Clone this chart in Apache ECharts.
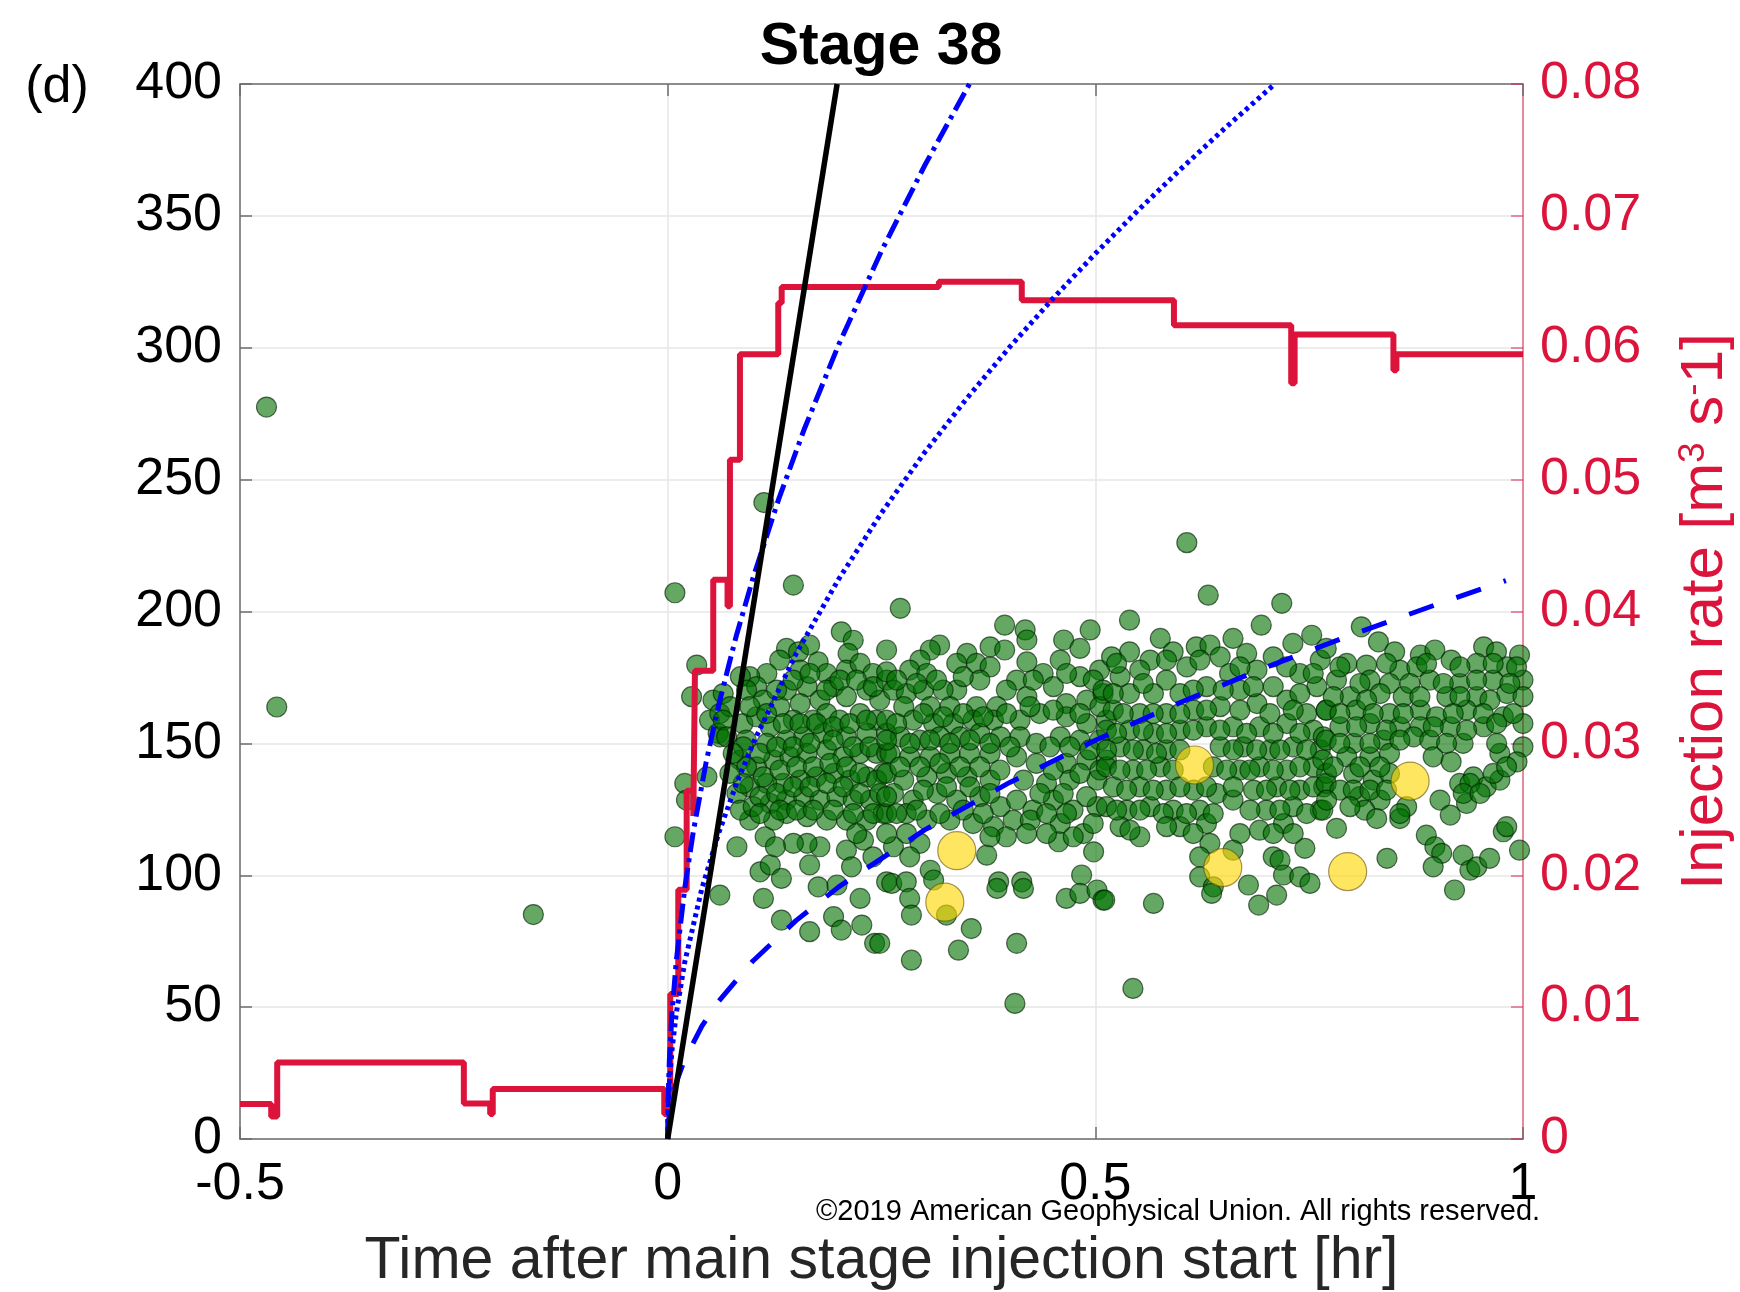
<!DOCTYPE html>
<html><head><meta charset="utf-8">
<script src="https://cdn.jsdelivr.net/npm/echarts@6/dist/echarts.min.js"></script>
<style>html,body{margin:0;padding:0;background:#fff}#c{width:1740px;height:1292px}</style>
</head><body><div id="c"></div>
<script>
// ---- data (time [hr], distance [m]) ----
const xTickLabels = ['-0.5', '0', '0.5', '1'];
const outlierEvents = [[-0.469,277.5],[-0.457,163.8],[-0.157,85.1],[0.1125,241.3],[0.607,226.1]];
const eventsA = [[0.0085,207.1],[0.147,210.0],[0.034,179.7],[0.028,167.7],[0.053,166.4],[0.049,158.8],[0.059,153.8],[0.020,134.8],[0.022,128.5],[0.046,137.3],[0.0085,114.6],[0.081,110.8],[0.061,92.5],[0.112,91.2],[0.108,101.3],[0.120,103.9],[0.133,98.8],[0.114,114.6],[0.096,120.9],[0.133,83.0],[0.166,78.6],[0.166,103.9],[0.176,95.6],[0.178,110.8],[0.194,84.3],[0.203,79.2],[0.198,96.3],[0.209,109.5],[0.215,103.2],[0.225,91.2],[0.227,81.1],[0.242,74.2],[0.229,113.3],[0.240,107.0],[0.256,97.5],[0.203,192.3],[0.217,189.1],[0.211,184.1],[0.256,185.4],[0.139,186.0],[0.153,184.7],[0.166,187.3],[0.131,181.6],[0.176,180.9],[0.116,176.5],[0.096,175.3],[0.085,175.3],[0.104,171.5],[0.065,168.9],[0.061,161.3],[0.073,163.9],[0.088,157.5],[0.061,152.5],[0.104,160.1],[0.120,156.3],[0.131,163.9],[0.139,170.2],[0.155,177.8],[0.163,171.5],[0.186,176.5],[0.194,171.5],[0.209,177.8],[0.225,180.3],[0.240,176.5],[0.233,170.2],[0.209,167.7],[0.178,166.4],[0.155,165.1],[0.147,158.8],[0.170,158.8],[0.186,161.3],[0.201,158.8],[0.225,161.3],[0.244,158.8],[0.248,166.4],[0.233,153.8],[0.209,152.5],[0.182,153.8],[0.159,152.5],[0.139,151.2],[0.116,150.0],[0.092,151.2],[0.085,143.7],[0.104,141.1],[0.124,143.7],[0.143,144.9],[0.163,146.2],[0.186,147.5],[0.205,144.9],[0.225,146.2],[0.244,146.2],[0.252,138.6],[0.233,137.3],[0.213,136.1],[0.194,138.6],[0.174,137.3],[0.155,136.1],[0.135,134.8],[0.116,134.8],[0.096,133.5],[0.081,131.0],[0.085,124.7],[0.100,126.0],[0.120,127.2],[0.139,128.5],[0.159,129.8],[0.178,128.5],[0.198,129.8],[0.217,128.5],[0.237,128.5],[0.252,123.4],[0.233,120.9],[0.209,120.9],[0.186,120.9],[0.163,122.2],[0.139,123.4],[0.124,120.9],[0.163,112.1],[0.147,112.1],[0.126,110.8],[0.221,115.8],
 [0.0923,170.2],[0.1118,166.4],[0.1274,170.2],[0.1469,174.0],[0.1664,176.5],[0.1859,170.2],[0.2014,174.0],[0.2209,174.0],[0.2404,171.5],[0.2560,174.0],[0.0962,163.9],[0.1157,161.3],[0.1352,157.5],[0.1547,157.5],[0.1742,157.5],[0.1936,156.3],[0.2131,157.5],[0.2326,158.8],[0.2560,153.8],[0.0884,148.7],[0.1079,146.2],[0.1274,148.7],[0.1469,148.7],[0.1664,150.0],[0.1936,151.2],[0.2170,148.7],[0.2365,148.7],[0.2560,146.2],[0.0923,141.1],[0.1118,137.3],[0.1313,139.9],[0.1508,141.1],[0.1703,141.1],[0.1897,142.4],[0.2092,141.1],[0.2248,138.6],[0.2443,136.1],[0.0884,134.8],[0.1079,129.8],[0.1274,131.0],[0.1469,133.5],[0.1664,133.5],[0.1859,134.8],[0.2053,133.5],[0.2248,131.0],[0.2482,131.0],[0.1079,123.4],[0.1313,124.7],[0.1508,124.7],[0.1703,124.7],[0.1936,124.7],[0.2170,123.4],[0.2404,123.4],[0.065,158.8],[0.069,152.5],[0.0767,146.2],[0.0728,138.6]];
const eventsB = [[0.272,201.2],[0.394,194.8],[0.418,193.0],[0.420,189.2],[0.463,189.2],[0.482,186.0],[0.494,193.0],[0.318,187.3],[0.307,185.4],[0.350,184.1],[0.377,186.6],[0.394,185.4],[0.420,180.9],[0.459,181.6],[0.338,180.3],[0.361,180.3],[0.295,181.6],[0.283,177.8],[0.256,177.1],[0.303,176.5],[0.377,179.0],[0.365,174.0],[0.408,174.0],[0.439,176.5],[0.482,175.3],[0.505,177.8],[0.451,171.5],[0.420,167.7],[0.396,170.2],[0.385,163.9],[0.361,163.9],[0.338,170.2],[0.322,170.2],[0.264,170.2],[0.279,168.9],[0.299,170.2],[0.276,163.9],[0.307,163.9],[0.330,163.9],[0.466,165.1],[0.490,166.4],[0.509,168.9],[0.435,161.3],[0.412,158.8],[0.466,160.1],[0.490,157.5],[0.513,158.8],[0.256,158.8],[0.287,158.8],[0.311,157.5],[0.334,157.5],[0.357,158.8],[0.381,158.8],[0.272,152.5],[0.295,151.2],[0.318,152.5],[0.342,152.5],[0.365,153.8],[0.389,152.5],[0.412,152.5],[0.431,150.0],[0.459,152.5],[0.482,151.2],[0.505,151.2],[0.260,146.2],[0.283,144.9],[0.307,144.9],[0.330,146.2],[0.353,146.2],[0.377,146.2],[0.408,144.9],[0.431,142.4],[0.466,142.4],[0.490,143.7],[0.513,143.7],[0.256,138.6],[0.276,136.1],[0.303,137.3],[0.326,138.6],[0.350,137.3],[0.377,136.1],[0.416,136.1],[0.443,134.8],[0.470,136.1],[0.502,136.1],[0.264,131.0],[0.287,128.5],[0.315,131.0],[0.338,128.5],[0.365,129.8],[0.389,126.0],[0.408,128.5],[0.427,124.7],[0.451,128.5],[0.474,124.7],[0.502,126.0],[0.256,123.4],[0.279,123.4],[0.303,120.9],[0.330,120.9],[0.357,119.6],[0.381,118.4],[0.404,120.9],[0.424,120.9],[0.459,119.6],[0.486,115.8],[0.396,114.6],[0.373,107.6],[0.457,112.7],[0.498,108.9],[0.264,110.8],[0.295,112.1],[0.283,107.0],[0.262,96.9],[0.279,97.5],[0.307,101.9],[0.311,98.2],[0.283,91.2],[0.285,84.9],[0.326,84.9],[0.387,97.5],[0.385,95.0],[0.414,97.5],[0.416,95.0],[0.484,100.1],[0.466,91.2],[0.482,93.1],[0.502,94.4],[0.509,90.6],[0.248,74.2],[0.285,67.8],[0.340,71.6],[0.355,79.8],[0.408,74.2],[0.406,51.4],
 [0.2677,174.0],[0.2911,172.7],[0.3144,174.0],[0.3456,175.3],[0.4275,174.0],[0.4664,176.5],[0.4976,174.0],[0.2677,157.5],[0.2989,161.3],[0.3222,160.1],[0.3456,161.3],[0.3690,160.1],[0.3963,161.3],[0.4236,163.9],[0.4508,162.6],[0.4820,161.3],[0.5054,163.9],[0.2560,151.2],[0.2833,150.0],[0.3067,151.2],[0.3300,150.0],[0.3534,151.2],[0.3768,150.0],[0.4002,148.7],[0.4469,148.7],[0.4703,148.7],[0.4937,147.5],[0.2716,141.1],[0.2950,141.1],[0.3183,142.4],[0.3417,141.1],[0.3651,141.1],[0.3885,139.9],[0.4508,139.9],[0.4820,138.6],[0.5054,139.9],[0.2560,129.8],[0.2989,132.3],[0.3261,133.5],[0.3534,133.5],[0.3768,131.0],[0.4352,131.0],[0.4625,131.0],[0.4898,129.8],[0.2677,123.4],[0.2911,124.7],[0.3183,123.4],[0.3456,124.7],[0.3690,123.4],[0.4430,123.4],[0.4664,123.4],[0.4976,119.6],[0.2560,115.8],[0.2794,115.8],[0.3768,114.6],[0.4197,115.8],[0.4430,115.8],[0.4742,114.6]];
const eventsC = [[0.632,206.2],[0.718,203.1],[0.540,196.7],[0.694,194.8],[0.753,191.0],[0.576,189.8],[0.618,186.6],[0.634,187.3],[0.661,189.8],[0.677,184.1],[0.731,187.9],[0.540,184.7],[0.519,182.8],[0.591,184.7],[0.564,181.6],[0.646,182.8],[0.708,182.8],[0.763,181.6],[0.607,179.0],[0.552,177.8],[0.529,175.3],[0.657,176.5],[0.689,177.8],[0.739,176.5],[0.583,174.0],[0.630,171.5],[0.509,170.2],[0.540,168.9],[0.568,168.9],[0.599,168.9],[0.669,170.2],[0.708,171.5],[0.759,171.5],[0.724,166.4],[0.689,165.1],[0.646,163.9],[0.615,162.6],[0.521,162.6],[0.552,161.3],[0.583,161.3],[0.747,161.3],[0.770,162.6],[0.513,155.0],[0.540,155.0],[0.568,153.8],[0.599,155.0],[0.630,156.3],[0.661,156.3],[0.692,156.3],[0.724,157.5],[0.755,155.0],[0.529,148.7],[0.556,147.5],[0.583,147.5],[0.646,148.7],[0.673,148.7],[0.704,147.5],[0.731,148.7],[0.763,147.5],[0.513,141.1],[0.544,139.9],[0.576,141.1],[0.638,141.1],[0.669,139.9],[0.692,141.1],[0.724,139.9],[0.755,141.1],[0.521,133.5],[0.552,133.5],[0.583,132.3],[0.615,132.3],[0.642,131.0],[0.685,132.3],[0.712,133.5],[0.739,132.3],[0.767,133.5],[0.513,126.0],[0.537,124.7],[0.564,126.0],[0.591,124.7],[0.622,124.7],[0.661,128.5],[0.700,124.7],[0.731,126.0],[0.763,124.7],[0.529,118.4],[0.552,114.6],[0.599,118.4],[0.630,119.6],[0.669,115.8],[0.692,117.1],[0.720,119.6],[0.634,112.1],[0.622,107.0],[0.661,109.5],[0.708,107.0],[0.716,105.7],[0.745,110.2],[0.622,99.4],[0.638,95.6],[0.636,93.1],[0.679,96.3],[0.720,100.1],[0.739,99.4],[0.751,96.9],[0.712,92.5],[0.691,88.7],[0.568,89.3],[0.511,90.6],[0.544,57.1],
 [0.5249,180.3],[0.5833,181.6],[0.6223,181.6],[0.6691,179.0],[0.7236,179.0],[0.7548,176.5],[0.5210,168.9],[0.5561,172.7],[0.6145,170.2],[0.6496,170.2],[0.6847,171.5],[0.7392,168.9],[0.5327,161.3],[0.5677,161.3],[0.5989,161.3],[0.6301,162.6],[0.6691,162.6],[0.7041,161.3],[0.7314,162.6],[0.5249,153.8],[0.5561,155.0],[0.5833,153.8],[0.6145,155.0],[0.6457,155.0],[0.6769,153.8],[0.7080,153.8],[0.7392,153.8],[0.7665,152.5],[0.5132,147.5],[0.5444,147.5],[0.5716,146.2],[0.5989,147.5],[0.6613,147.5],[0.6886,147.5],[0.7158,147.5],[0.7470,147.5],[0.5288,139.9],[0.5600,139.9],[0.5911,139.9],[0.6535,139.9],[0.6808,139.9],[0.7080,139.9],[0.7392,141.1],[0.7704,138.6],[0.5366,132.3],[0.5677,132.3],[0.5989,133.5],[0.6301,133.5],[0.6613,133.5],[0.7002,132.3],[0.7275,132.3],[0.7548,133.5],[0.5249,124.7],[0.5522,124.7],[0.5795,123.4],[0.6067,123.4],[0.6379,123.4],[0.6808,124.7],[0.7158,124.7],[0.7470,123.4],[0.5405,117.1],[0.5833,118.4],[0.6145,115.8],[0.7080,115.8],[0.7314,115.8]];
const eventsD = [[0.811,194.2],[0.831,188.5],[0.850,184.7],[0.880,183.5],[0.897,185.4],[0.916,181.6],[0.954,186.6],[0.969,184.7],[0.996,183.5],[0.770,186.0],[0.794,180.3],[0.817,179.7],[0.856,177.8],[0.876,179.0],[0.946,180.3],[0.981,179.0],[0.782,174.0],[0.821,174.0],[0.844,172.7],[0.891,174.0],[0.926,172.7],[0.965,174.0],[1.000,174.0],[0.798,167.7],[0.833,168.9],[0.860,167.7],[0.911,167.7],[0.946,167.7],[0.981,168.9],[1.000,167.7],[0.770,162.6],[0.805,162.6],[0.844,161.3],[0.880,162.6],[0.899,160.1],[0.934,162.6],[0.977,160.1],[1.000,157.5],[0.786,156.3],[0.821,157.5],[0.856,156.3],[0.880,156.3],[0.915,156.3],[0.954,156.3],[0.770,151.2],[0.802,150.0],[0.837,151.2],[0.872,152.5],[0.891,151.2],[0.930,150.0],[1.000,148.7],[0.766,143.7],[0.794,144.9],[0.821,144.9],[0.844,146.2],[0.895,144.9],[0.916,143.0],[0.973,146.2],[0.993,143.0],[0.770,134.8],[0.786,132.3],[0.802,138.6],[0.825,136.1],[0.844,138.6],[0.926,134.8],[0.942,137.3],[0.957,133.5],[0.973,136.1],[0.809,129.8],[0.833,128.5],[0.864,126.0],[0.903,128.5],[0.934,127.2],[0.766,124.7],[0.815,124.7],[0.829,121.5],[0.856,121.5],[0.915,122.8],[0.782,117.8],[0.887,115.2],[0.897,110.8],[0.905,108.3],[0.930,107.6],[0.841,106.4],[0.895,103.2],[0.938,101.9],[0.946,103.2],[0.961,106.4],[0.977,116.5],[0.981,118.4],[0.996,109.5],[0.920,94.4],
 [0.7860,179.0],[0.8405,180.3],[0.8873,180.3],[0.9263,179.0],[0.9652,180.3],[0.9925,179.0],[0.8094,172.7],[0.8678,172.7],[0.9068,172.7],[0.9458,174.0],[0.9847,172.7],[0.7782,167.7],[0.8172,166.4],[0.8795,167.7],[0.9263,167.7],[0.9614,166.4],[0.7860,161.3],[0.8249,161.3],[0.8600,161.3],[0.9185,161.3],[0.9536,161.3],[0.9886,161.3],[0.8055,156.3],[0.8405,155.0],[0.8951,156.3],[0.9341,155.0],[0.9692,157.5],[0.7860,150.0],[0.8211,150.0],[0.8561,151.2],[0.9107,150.0],[0.9692,150.0],[0.7782,141.1],[0.8094,141.1],[0.8328,141.1],[0.9380,134.8],[0.9653,138.6],[0.9808,141.1],[0.8016,132.3],[0.8211,132.3],[0.8405,132.3],[0.7704,128.5],[0.7977,126.0],[0.8561,123.4],[0.9302,131.0],[0.9497,131.0]];
const largeEvents = [[0.338,109.3],[0.324,89.8],[0.616,141.8],[0.649,102.9],[0.795,101.4],[0.868,135.7]];
// injection rate [m3/s], step changes at given times
const injectionRate = [[-0.5,0.00265],[-0.4635,0.0017],[-0.4565,0.0058],[-0.2383,0.0027],[-0.2075,0.0019],[-0.2045,0.0038],[-0.004,0.0019],[0.003,0.0110],[0.0124,0.0189],[0.0222,0.0264],[0.030,0.0245],[0.0319,0.0355],[0.0533,0.0424],[0.070,0.0404],[0.0728,0.0515],[0.0845,0.0595],[0.1293,0.0634],[0.1333,0.0646],[0.317,0.0650],[0.414,0.0636],[0.5919,0.0617],[0.729,0.0573],[0.733,0.0610],[0.8485,0.0583],[0.852,0.0595],[1.0,0.0595]];
// triggering-front curves
const frontSolid = [[0,0],[0.1981,400]];
const frontDashDot = [[0,0],[0.0005,15.1],[0.002,30.1],[0.005,47.6],[0.01,67.3],[0.02,95.2],[0.03,116.6],[0.045,142.9],[0.06,165.0],[0.08,190.5],[0.1,212.9],[0.13,242.8],[0.16,269.4],[0.2,301.2],[0.25,336.7],[0.3,368.8],[0.3528,400]];
const frontDotted = [[0,0],[0.0005,10.6],[0.002,21.2],[0.005,33.6],[0.01,47.5],[0.02,67.1],[0.04,95.0],[0.06,116.3],[0.08,134.3],[0.1,150.1],[0.15,183.9],[0.2,212.3],[0.25,237.4],[0.3,260.1],[0.35,280.9],[0.4,300.3],[0.45,318.5],[0.5,335.7],[0.55,352.1],[0.6,367.8],[0.65,382.8],[0.7098,400]];
const frontDashed = [[0,0],[0.001,6.8],[0.003,11.7],[0.005,15.1],[0.01,21.4],[0.02,30.2],[0.04,42.8],[0.06,52.4],[0.1,67.6],[0.15,82.8],[0.2,95.6],[0.3,117.1],[0.4,135.2],[0.5,151.2],[0.6,165.6],[0.7,178.9],[0.8,191.2],[0.9,202.8],[0.98,211.7]];

const FONT = '"Liberation Sans", Arial, Helvetica, sans-serif';
const RED = '#DC143C';
const GREY = '#6e6e6e';
const chart = echarts.init(document.getElementById('c'), null, {renderer: 'canvas'});
const greenEvents = [].concat(outlierEvents, eventsA, eventsB, eventsC, eventsD);

chart.setOption({
  animation: false,
  backgroundColor: '#fff',
  grid: {left: 240, right: 217, top: 84, bottom: 153, containLabel: false, outerBoundsMode: 'none'},
  graphic: [
    {type: 'text', x: 881, y: 48, z: 100, style: {text: 'Stage 38', fontSize: 59, fontWeight: 'bold', fontFamily: FONT, fill: '#000', align: 'center', verticalAlign: 'middle'}},
    {type: 'text', x: 57, y: 88, z: 100, style: {text: '(d)', fontSize: 52, fontFamily: FONT, fill: '#000', align: 'center', verticalAlign: 'middle'}},
    {type: 'text', x: 816, y: 1212, z: 100, style: {text: '\u00a92019 American Geophysical Union. All rights reserved.', fontSize: 29, fontFamily: FONT, fill: '#000', align: 'left', verticalAlign: 'middle'}}
  ],
  xAxis: [{
    type: 'value', min: -0.5, max: 1, interval: 0.5, position: 'bottom',
    name: 'Time after main stage injection start [hr]', nameLocation: 'middle', nameGap: 93,
    nameTextStyle: {fontSize: 59, fontFamily: FONT, color: '#262626'},
    axisLine: {show: true, onZero: false, lineStyle: {color: GREY, width: 1.5}},
    axisTick: {show: true, inside: true, length: 12, lineStyle: {color: GREY, width: 1.5}},
    axisLabel: {fontSize: 52, fontFamily: FONT, color: '#000', margin: 20, showMinLabel: true, showMaxLabel: true,
      formatter: v => xTickLabels[Math.round((v + 0.5) / 0.5)]},
    splitLine: {show: true, lineStyle: {color: '#e6e6e6', width: 1.5}}
  }, {
    type: 'value', min: -0.5, max: 1, interval: 0.5, position: 'top',
    axisLine: {show: true, onZero: false, lineStyle: {color: GREY, width: 1.5}},
    axisTick: {show: true, inside: true, length: 12, lineStyle: {color: GREY, width: 1.5}},
    axisLabel: {show: false}, splitLine: {show: false}
  }],
  yAxis: [{
    type: 'value', min: 0, max: 400, interval: 50, position: 'left',
    axisLine: {show: true, onZero: false, lineStyle: {color: GREY, width: 1.5}},
    axisTick: {show: true, inside: true, length: 12, lineStyle: {color: GREY, width: 1.5}},
    axisLabel: {fontSize: 52, fontFamily: FONT, color: '#000', margin: 18, showMinLabel: true, showMaxLabel: true},
    splitLine: {show: true, lineStyle: {color: '#e6e6e6', width: 1.5}}
  }, {
    type: 'value', min: 0, max: 0.08, interval: 0.01, position: 'right',
    name: 'Injection rate [m{sup|3} s{sup|-}1]', nameLocation: 'middle', nameGap: 152, nameRotate: 90,
    nameTextStyle: {fontSize: 60, fontFamily: FONT, color: RED,
      rich: {sup: {fontSize: 37, fontFamily: FONT, color: RED, verticalAlign: 'top', padding: [0, 0, 22, 0]}}},
    axisLine: {show: true, onZero: false, lineStyle: {color: RED, width: 1.5, opacity: 0.6}},
    axisTick: {show: true, inside: true, length: 12, lineStyle: {color: RED, width: 1.5, opacity: 0.6}},
    axisLabel: {fontSize: 52, fontFamily: FONT, color: RED, margin: 17, showMinLabel: true, showMaxLabel: true,
      formatter: v => String(parseFloat(v.toFixed(3)))},
    splitLine: {show: false}
  }],
  series: [
    {type: 'scatter', name: 'events', xAxisIndex: 0, yAxisIndex: 0, data: greenEvents, symbol: 'circle', symbolSize: 20, clip: false, z: 2,
      itemStyle: {color: 'rgba(0,112,0,0.76)', borderColor: 'rgba(0,30,0,0.8)', borderWidth: 1.2}},
    {type: 'scatter', name: 'large', xAxisIndex: 0, yAxisIndex: 0, data: largeEvents, symbol: 'circle', symbolSize: 38, clip: false, z: 3,
      itemStyle: {color: 'rgba(255,215,0,0.78)', borderColor: 'rgba(90,70,0,0.7)', borderWidth: 1.2}},
    {type: 'line', name: 'rate', xAxisIndex: 0, yAxisIndex: 1, data: injectionRate, step: 'end', showSymbol: false, symbol: 'none', z: 4,
      lineStyle: {color: RED, width: 6}},
    {type: 'line', xAxisIndex: 0, yAxisIndex: 0, data: frontDashed, symbol: 'none', z: 5, lineStyle: {color: '#0000FF', width: 5, type: [26, 24]}},
    {type: 'line', xAxisIndex: 0, yAxisIndex: 0, data: frontDotted, symbol: 'none', z: 5, lineStyle: {color: '#0000FF', width: 5, type: [4, 4]}},
    {type: 'line', xAxisIndex: 0, yAxisIndex: 0, data: frontDashDot, symbol: 'none', z: 5, lineStyle: {color: '#0000FF', width: 5, type: [20, 6, 4, 6]}},
    {type: 'line', xAxisIndex: 0, yAxisIndex: 0, data: frontSolid, symbol: 'none', z: 6, lineStyle: {color: '#000', width: 5.5}}
  ]
});
</script></body></html>
